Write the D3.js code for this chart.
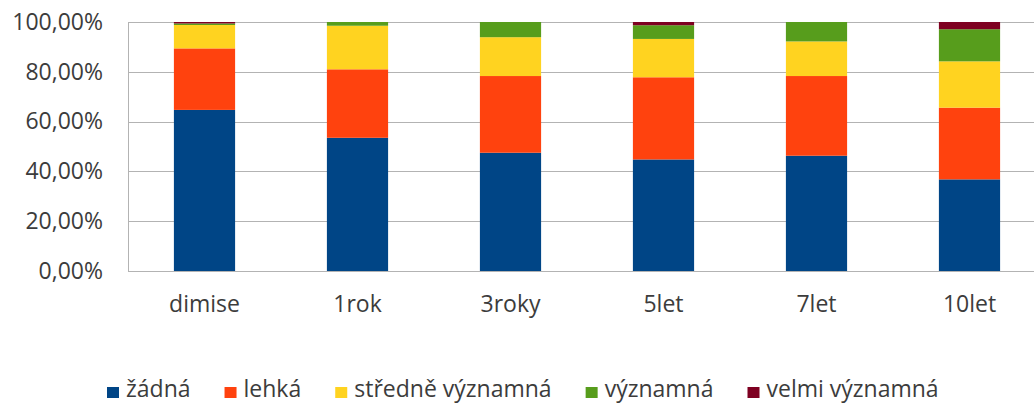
<!DOCTYPE html>
<html>
<head>
<meta charset="utf-8">
<script src="https://cdn.jsdelivr.net/npm/d3@7"></script>
<style>
  body { margin: 0; background: #fff; }
  svg { display: block; font-family: "Open Sans", sans-serif; }
</style>
</head>
<body>
<svg></svg>
<script>
// categories (x axis)
var categories = ['dimise', '1rok', '3roky', '5let', '7let', '10let'];

// series, share of patients (0-1)
var seriesNames = ['žádná', 'lehká', 'středně významná', 'významná', 'velmi významná'];
var zadna = [0.647, 0.535, 0.475, 0.448, 0.463, 0.368];
var lehka = [0.247, 0.275, 0.308, 0.330, 0.320, 0.288];
var stredne = [0.094, 0.175, 0.156, 0.154, 0.139, 0.186];
var vyznamna = [0.006, 0.015, 0.061, 0.055, 0.078, 0.129];
var velmi = [0.006, 0.000, 0.000, 0.013, 0.000, 0.029];
var colors = ['#004586', '#ff420e', '#ffd320', '#579d1c', '#7e0021'];

var yTicks = [0, 0.2, 0.4, 0.6, 0.8, 1];

var svgWidth = 1034, svgHeight = 405;
var margin = { top: 22, right: -12, bottom: 134, left: 128 };

var svg = d3.select('svg')
  .attr('width', svgWidth)
  .attr('height', svgHeight);

var rows = categories.map(function (c, i) {
  return {
    cat: c,
    'žádná': zadna[i],
    'lehká': lehka[i],
    'středně významná': stredne[i],
    'významná': vyznamna[i],
    'velmi významná': velmi[i]
  };
});

var x = d3.scaleBand()
  .domain(categories)
  .range([margin.left, svgWidth - margin.right])
  .paddingInner(0.6)
  .paddingOuter(0.3);

var y = d3.scaleLinear()
  .domain([0, 1])
  .range([svgHeight - margin.bottom, margin.top]);

var color = d3.scaleOrdinal().domain(seriesNames).range(colors);

var cz = d3.formatLocale({ decimal: ',', thousands: ' ', grouping: [3], currency: ['', ' Kč'] });
var pct = cz.format('.2%');

// grid lines
svg.append('g')
  .selectAll('line')
  .data(yTicks)
  .join('line')
  .attr('x1', margin.left)
  .attr('x2', svgWidth - margin.right)
  .attr('y1', function (d) { return Math.round(y(d)) + 0.5; })
  .attr('y2', function (d) { return Math.round(y(d)) + 0.5; })
  .attr('stroke', '#b3b3b3')
  .attr('stroke-width', 1);

// left axis line
svg.append('line')
  .attr('x1', margin.left + 0.5)
  .attr('x2', margin.left + 0.5)
  .attr('y1', Math.round(y(1)) + 0.5)
  .attr('y2', Math.round(y(0)) + 0.5)
  .attr('stroke', '#b3b3b3');

// y tick labels
var yAxis = svg.append('g')
  .attr('transform', 'translate(' + margin.left + ',0)')
  .call(d3.axisLeft(y).tickValues(yTicks).tickFormat(pct).tickSize(0).tickPadding(25));
yAxis.select('.domain').remove();
yAxis.selectAll('text')
  .attr('font-family', '"Open Sans", sans-serif')
  .attr('font-size', 23)
  .attr('fill', '#3c3c3c')
  .attr('dy', '0.32em');

// stacked bars
var stack = d3.stack().keys(seriesNames);
svg.append('g')
  .selectAll('g')
  .data(stack(rows))
  .join('g')
  .attr('fill', function (d) { return color(d.key); })
  .selectAll('rect')
  .data(function (d) { return d; })
  .join('rect')
  .attr('x', function (d) { return x(d.data.cat); })
  .attr('width', x.bandwidth())
  .attr('y', function (d) { return y(d[1]); })
  .attr('height', function (d) { return y(d[0]) - y(d[1]); });

// x labels
var xAxis = svg.append('g')
  .attr('transform', 'translate(0,' + y(0) + ')')
  .call(d3.axisBottom(x).tickSize(0).tickPadding(25));
xAxis.select('.domain').remove();
xAxis.selectAll('text')
  .attr('font-family', '"Open Sans", sans-serif')
  .attr('font-size', 23)
  .attr('fill', '#3c3c3c');

// legend
var legend = svg.append('g').attr('transform', 'translate(107,397)');
var lx = 0;
seriesNames.forEach(function (name) {
  var item = legend.append('g').attr('transform', 'translate(' + lx + ',0)');
  item.append('rect')
    .attr('x', 0)
    .attr('y', -10)
    .attr('width', 12)
    .attr('height', 11)
    .attr('fill', color(name));
  var t = item.append('text')
    .attr('x', 19)
    .attr('font-size', 23)
    .attr('fill', '#3c3c3c')
    .text(name);
  lx += 19 + t.node().getComputedTextLength() + 34;
});
</script>
</body>
</html>
